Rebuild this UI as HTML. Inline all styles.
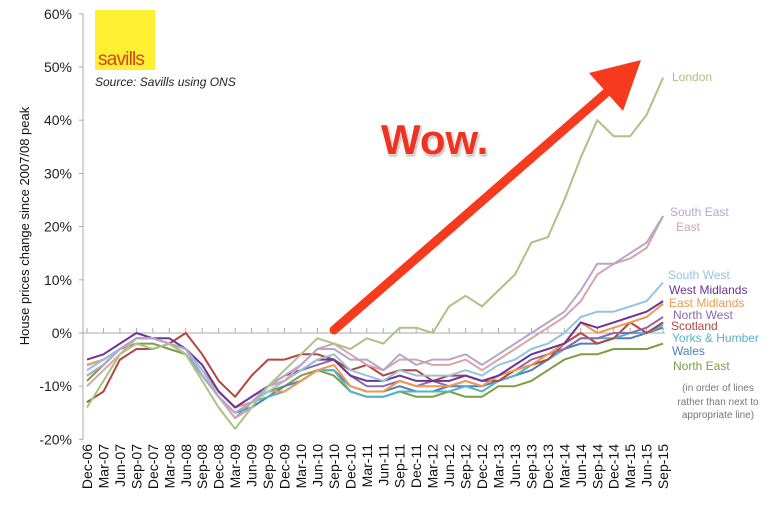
<!DOCTYPE html>
<html><head><meta charset="utf-8"><style>
body{margin:0;background:#fff;}
svg{display:block;font-family:"Liberation Sans",Arial,sans-serif;}
</style></head><body>
<svg id="chart" width="768" height="508" viewBox="0 0 768 508" xmlns="http://www.w3.org/2000/svg">
<g id="axes"></g>
<g id="series"></g>
<g id="legend"></g>
<rect x="95" y="10" width="60" height="60" fill="#fdef32"/>
<text x="98" y="65" font-size="19" fill="#d4451c" letter-spacing="-0.8">savills</text>
<text x="95" y="86" font-size="12" font-style="italic" fill="#222">Source: Savills using ONS</text>
<text transform="translate(29,226) rotate(-90)" text-anchor="middle" font-size="13" fill="#111">House prices change since 2007/08 peak</text>
<g>
<line x1="334" y1="330" x2="606" y2="93" stroke="#f63a1e" stroke-width="9" stroke-linecap="round"/>
<polygon points="641,60 589,73 623,111" fill="#f63a1e"/>
</g>
<text x="381" y="154" font-size="42" font-weight="bold" fill="#ee3320" stroke="#fff" stroke-width="1" style="paint-order:stroke;filter:drop-shadow(1px 2px 1px #bbb)">Wow.</text>
<text font-size="10" fill="#777" text-anchor="middle"><tspan x="718" y="391">(in order of lines</tspan><tspan x="718" y="405">rather than next to</tspan><tspan x="718" y="418">appropriate line)</tspan></text>
</svg>
<script>
const categories=["Dec-06","Mar-07","Jun-07","Sep-07","Dec-07","Mar-08","Jun-08","Sep-08","Dec-08","Mar-09","Jun-09","Sep-09","Dec-09","Mar-10","Jun-10","Sep-10","Dec-10","Mar-11","Jun-11","Sep-11","Dec-11","Mar-12","Jun-12","Sep-12","Dec-12","Mar-13","Jun-13","Sep-13","Dec-13","Mar-14","Jun-14","Sep-14","Dec-14","Mar-15","Jun-15","Sep-15"];
const yTicks=[-20,-10,0,10,20,30,40,50,60];
const seriesNames=["London","South East","East","South West","West Midlands","East Midlands","North West","Scotland","Yorks & Humber","Wales","North East"];
const london=[-14,-9,-4,-2,-3,-2,-4,-9,-14,-18,-14,-10,-7,-4,-1,-2,-3,-1,-2,1,1,0,5,7,5,8,11,17,18,25,33,40,37,37,41,48];
const southEast=[-8,-6,-3,-1,-1,-2,-3,-8,-12,-15,-13,-10,-8,-6,-3,-3,-5,-5,-7,-4,-6,-5,-5,-4,-6,-4,-2,0,2,4,8,13,13,15,17,22];
const east=[-10,-7,-4,-1,-1,-2,-3,-8,-12,-16,-14,-10,-9,-6,-3,-2,-4,-6,-7,-5,-5,-6,-6,-5,-7,-5,-3,-1,1,3,6,11,13,14,16,22];
const southWest=[-7,-5,-3,-1,-1,-2,-3,-7,-12,-15,-13,-11,-9,-7,-5,-4,-7,-8,-9,-7,-8,-8,-8,-7,-8,-6,-5,-3,-2,0,3,4,4,5,6,9.5];
const westMidlands=[-5,-4,-2,0,-1,-1,-3,-6,-11,-14,-12,-10,-8,-7,-5,-5,-8,-9,-9,-8,-9,-9,-9,-8,-9,-8,-6,-4,-3,-2,2,1,2,3,4,6];
const eastMidlands=[-6,-5,-3,-1,-1,-2,-3,-7,-11,-14,-13,-11,-11,-9,-7,-6,-10,-11,-11,-9,-10,-10,-10,-9,-10,-8,-7,-6,-4,-2,2,0,1,2,3,5.5];
const northWest=[-6,-5,-3,-1,-1,-2,-3,-7,-11,-14,-12,-10,-9,-7,-6,-5,-8,-10,-10,-9,-10,-9,-10,-9,-10,-8,-7,-5,-4,-3,-1,-1,0,0,1,3];
const scotland=[-13,-11,-5,-3,-3,-2,0,-4,-9,-12,-8,-5,-5,-4,-4,-5,-7,-6,-8,-7,-7,-9,-8,-8,-9,-9,-7,-6,-5,-2,0,-2,-1,2,0,2];
const yorks=[-7,-5,-3,-1,-1,-2,-4,-8,-12,-16,-13,-12,-11,-9,-7,-7,-11,-12,-12,-11,-11,-11,-11,-10,-11,-9,-8,-6,-5,-3,-1,-1,-1,0,0,1.5];
const wales=[-8,-6,-3,-1,-1,-2,-4,-8,-12,-15,-14,-12,-10,-9,-7,-7,-10,-11,-11,-10,-11,-11,-10,-10,-10,-9,-8,-7,-5,-3,-2,-2,-1,-1,0,1];
const northEast=[-9,-6,-3,-2,-2,-3,-4,-8,-12,-15,-13,-11,-10,-8,-7,-8,-11,-12,-12,-11,-12,-12,-11,-12,-12,-10,-10,-9,-7,-5,-4,-4,-3,-3,-3,-2];
const seriesValues=[london,southEast,east,southWest,westMidlands,eastMidlands,northWest,scotland,yorks,wales,northEast];
const colors=["#a8c482","#b6a6cc","#d8a4a8","#93c6dc","#6d3597","#ee9a4e","#8a6bab","#b5453e","#55b2c8","#4f7fb8","#7e9d45"];
const legendPos=[[672,81],[670,216],[676,231],[668,279],[669,294],[669,307],[673,319],[671,330],[672,342],[672,355],[673,370]];
const NS="http://www.w3.org/2000/svg";
const x0=87,dx=16.46,y0=333,ppu=5.32;
function xs(i){return x0+i*dx;}
function ys(v){return y0-v*ppu;}
function mk(t,a){const e=document.createElementNS(NS,t);for(const k in a)e.setAttribute(k,a[k]);return e;}
const axes=document.getElementById('axes');
let ax=mk('line',{x1:83,y1:ys(60),x2:83,y2:ys(-20),stroke:'#aaa','stroke-width':1});


axes.appendChild(ax);
yTicks.forEach(v=>{
 const t=mk('line',{x1:79,y1:ys(v),x2:83,y2:ys(v),stroke:'#aaa'});
 
 
 axes.appendChild(t);
 const l=mk('text',{x:72,y:ys(v)+5,'text-anchor':'end','font-size':14,fill:'#222'});
 l.textContent=v+'%';
 
 
 axes.appendChild(l);
});
const zl=mk('line',{x1:83,y1:y0,x2:xs(categories.length-1)+2,y2:y0,stroke:'#aaa'});


axes.appendChild(zl);
categories.forEach((c,i)=>{
 const t=mk('line',{x1:xs(i),y1:y0,x2:xs(i),y2:y0-5,stroke:'#aaa'});
 
 
 axes.appendChild(t);
 const l=mk('text',{transform:`translate(${xs(i)+5},444) rotate(-90)`,'text-anchor':'end','font-size':14,fill:'#111'});
 l.textContent=c;
 
 
 axes.appendChild(l);
});
const sg=document.getElementById('series'),lg=document.getElementById('legend');
for(let s=seriesValues.length-1;s>=0;s--){
 const pts=seriesValues[s].map((v,i)=>xs(i).toFixed(1)+','+ys(v).toFixed(1)).join(' ');
 const p=mk('polyline',{points:pts,fill:'none',stroke:colors[s],'stroke-width':2,'stroke-linejoin':'round'});
 
 
 sg.appendChild(p);
}
seriesNames.forEach((n,s)=>{
 const t=mk('text',{x:legendPos[s][0],y:legendPos[s][1],'font-size':12,fill:colors[s]});
 t.textContent=n;
 
 
 lg.appendChild(t);
});
</script>
</body></html>
